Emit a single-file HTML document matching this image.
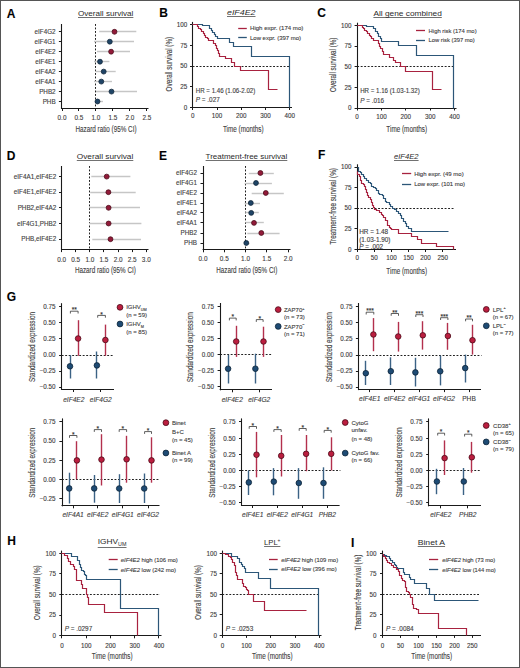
<!DOCTYPE html>
<html><head><meta charset="utf-8"><style>
html,body{margin:0;padding:0;background:#fff;}
svg{display:block;font-family:"Liberation Sans", sans-serif;fill:#404040;}
text{stroke:#404040;stroke-width:0.12px;}
text.t{stroke-width:0;}
</style></head><body>
<svg width="520" height="668" viewBox="0 0 520 668">
<rect x="0.5" y="0.5" width="519" height="667" fill="#fff" stroke="#555" stroke-width="1"/>
<text x="6.80" y="17.54" font-size="12" font-weight="bold" fill="#000">A</text>
<text class="t" x="78.00" y="16.00" font-size="8" textLength="55.40" lengthAdjust="spacingAndGlyphs" fill="#2a2a2a">Overall survival</text>
<line x1="78.00" y1="17.50" x2="133.40" y2="17.50" stroke="#333" stroke-width="0.7" />
<line x1="61.50" y1="24.00" x2="61.50" y2="109.00" stroke="#1a1a1a" stroke-width="1.1" />
<line x1="61.00" y1="108.50" x2="148.50" y2="108.50" stroke="#1a1a1a" stroke-width="1.1" />
<line x1="95.50" y1="24.00" x2="95.50" y2="108.50" stroke="#222" stroke-width="1" stroke-dasharray="1.9 1.6"/>
<line x1="58.90" y1="31.50" x2="61.50" y2="31.50" stroke="#1a1a1a" stroke-width="1" />
<text x="55.60" y="34.04" font-size="6.3" text-anchor="end">eIF4G2</text>
<line x1="58.90" y1="41.50" x2="61.50" y2="41.50" stroke="#1a1a1a" stroke-width="1" />
<text x="55.60" y="43.94" font-size="6.3" text-anchor="end">eIF4G1</text>
<line x1="58.90" y1="51.50" x2="61.50" y2="51.50" stroke="#1a1a1a" stroke-width="1" />
<text x="55.60" y="53.94" font-size="6.3" text-anchor="end">eIF4E2</text>
<line x1="58.90" y1="61.50" x2="61.50" y2="61.50" stroke="#1a1a1a" stroke-width="1" />
<text x="55.60" y="63.94" font-size="6.3" text-anchor="end">eIF4E1</text>
<line x1="58.90" y1="71.50" x2="61.50" y2="71.50" stroke="#1a1a1a" stroke-width="1" />
<text x="55.60" y="73.84" font-size="6.3" text-anchor="end">eIF4A2</text>
<line x1="58.90" y1="81.50" x2="61.50" y2="81.50" stroke="#1a1a1a" stroke-width="1" />
<text x="55.60" y="83.84" font-size="6.3" text-anchor="end">eIF4A1</text>
<line x1="58.90" y1="91.50" x2="61.50" y2="91.50" stroke="#1a1a1a" stroke-width="1" />
<text x="55.60" y="93.84" font-size="6.3" text-anchor="end">PHB2</text>
<line x1="58.90" y1="101.50" x2="61.50" y2="101.50" stroke="#1a1a1a" stroke-width="1" />
<text x="55.60" y="103.74" font-size="6.3" text-anchor="end">PHB</text>
<line x1="62.50" y1="108.50" x2="62.50" y2="111.00" stroke="#1a1a1a" stroke-width="1" />
<text x="62.00" y="119.57" font-size="6.4" text-anchor="middle">0.0</text>
<line x1="78.50" y1="108.50" x2="78.50" y2="111.00" stroke="#1a1a1a" stroke-width="1" />
<text x="78.98" y="119.57" font-size="6.4" text-anchor="middle">0.5</text>
<line x1="95.50" y1="108.50" x2="95.50" y2="111.00" stroke="#1a1a1a" stroke-width="1" />
<text x="95.96" y="119.57" font-size="6.4" text-anchor="middle">1.0</text>
<line x1="112.50" y1="108.50" x2="112.50" y2="111.00" stroke="#1a1a1a" stroke-width="1" />
<text x="112.94" y="119.57" font-size="6.4" text-anchor="middle">1.5</text>
<line x1="129.50" y1="108.50" x2="129.50" y2="111.00" stroke="#1a1a1a" stroke-width="1" />
<text x="129.92" y="119.57" font-size="6.4" text-anchor="middle">2.0</text>
<line x1="146.50" y1="108.50" x2="146.50" y2="111.00" stroke="#1a1a1a" stroke-width="1" />
<text x="146.90" y="119.57" font-size="6.4" text-anchor="middle">2.5</text>
<text x="106.00" y="131.75" font-size="8.3" text-anchor="middle" textLength="61.00" lengthAdjust="spacingAndGlyphs">Hazard ratio (95% CI)</text>
<line x1="99.20" y1="31.50" x2="136.30" y2="31.50" stroke="#c6c6c6" stroke-width="1.4" />
<line x1="94.00" y1="41.50" x2="134.00" y2="41.50" stroke="#c6c6c6" stroke-width="1.4" />
<line x1="97.00" y1="51.50" x2="130.00" y2="51.50" stroke="#c6c6c6" stroke-width="1.4" />
<line x1="94.00" y1="61.50" x2="109.40" y2="61.50" stroke="#c6c6c6" stroke-width="1.4" />
<line x1="95.40" y1="71.50" x2="115.70" y2="71.50" stroke="#c6c6c6" stroke-width="1.4" />
<line x1="94.00" y1="81.50" x2="112.00" y2="81.50" stroke="#c6c6c6" stroke-width="1.4" />
<line x1="96.00" y1="91.50" x2="137.00" y2="91.50" stroke="#c6c6c6" stroke-width="1.4" />
<line x1="95.40" y1="101.50" x2="103.00" y2="101.50" stroke="#c6c6c6" stroke-width="1.4" />
<circle cx="114.50" cy="31.80" r="2.45" fill="#921a39" stroke="#4a0a18" stroke-width="0.8"/>
<circle cx="109.80" cy="41.70" r="2.45" fill="#1f4466" stroke="#0e2438" stroke-width="0.8"/>
<circle cx="111.10" cy="51.70" r="2.45" fill="#921a39" stroke="#4a0a18" stroke-width="0.8"/>
<circle cx="100.00" cy="61.70" r="2.45" fill="#1f4466" stroke="#0e2438" stroke-width="0.8"/>
<circle cx="103.70" cy="71.60" r="2.45" fill="#1f4466" stroke="#0e2438" stroke-width="0.8"/>
<circle cx="101.30" cy="81.60" r="2.45" fill="#1f4466" stroke="#0e2438" stroke-width="0.8"/>
<circle cx="111.50" cy="91.60" r="2.45" fill="#1f4466" stroke="#0e2438" stroke-width="0.8"/>
<circle cx="97.50" cy="101.50" r="2.45" fill="#1f4466" stroke="#0e2438" stroke-width="0.8"/>
<text x="6.80" y="159.54" font-size="12" font-weight="bold" fill="#000">D</text>
<text class="t" x="76.80" y="158.80" font-size="8" textLength="56.50" lengthAdjust="spacingAndGlyphs" fill="#2a2a2a">Overall survival</text>
<line x1="76.80" y1="160.50" x2="133.30" y2="160.50" stroke="#333" stroke-width="0.7" />
<line x1="61.50" y1="166.00" x2="61.50" y2="250.10" stroke="#1a1a1a" stroke-width="1.1" />
<line x1="61.10" y1="249.50" x2="148.50" y2="249.50" stroke="#1a1a1a" stroke-width="1.1" />
<line x1="89.50" y1="166.00" x2="89.50" y2="249.60" stroke="#222" stroke-width="1" stroke-dasharray="1.9 1.6"/>
<line x1="59.00" y1="176.50" x2="61.60" y2="176.50" stroke="#1a1a1a" stroke-width="1" />
<text x="56.20" y="178.84" font-size="6.3" text-anchor="end">eIF4A1,eIF4E2</text>
<line x1="59.00" y1="192.50" x2="61.60" y2="192.50" stroke="#1a1a1a" stroke-width="1" />
<text x="56.20" y="194.44" font-size="6.3" text-anchor="end">eIF4E1,eIF4E2</text>
<line x1="59.00" y1="207.50" x2="61.60" y2="207.50" stroke="#1a1a1a" stroke-width="1" />
<text x="56.20" y="210.04" font-size="6.3" text-anchor="end">PHB2,eIF4A2</text>
<line x1="59.00" y1="223.50" x2="61.60" y2="223.50" stroke="#1a1a1a" stroke-width="1" />
<text x="56.20" y="225.74" font-size="6.3" text-anchor="end">eIF4G1,PHB2</text>
<line x1="59.00" y1="239.50" x2="61.60" y2="239.50" stroke="#1a1a1a" stroke-width="1" />
<text x="56.20" y="241.44" font-size="6.3" text-anchor="end">PHB,eIF4E2</text>
<line x1="61.50" y1="249.60" x2="61.50" y2="252.10" stroke="#1a1a1a" stroke-width="1" />
<text x="61.60" y="262.07" font-size="6.4" text-anchor="middle">0.0</text>
<line x1="75.50" y1="249.60" x2="75.50" y2="252.10" stroke="#1a1a1a" stroke-width="1" />
<text x="75.72" y="262.07" font-size="6.4" text-anchor="middle">0.5</text>
<line x1="89.50" y1="249.60" x2="89.50" y2="252.10" stroke="#1a1a1a" stroke-width="1" />
<text x="89.84" y="262.07" font-size="6.4" text-anchor="middle">1.0</text>
<line x1="103.50" y1="249.60" x2="103.50" y2="252.10" stroke="#1a1a1a" stroke-width="1" />
<text x="103.96" y="262.07" font-size="6.4" text-anchor="middle">1.5</text>
<line x1="118.50" y1="249.60" x2="118.50" y2="252.10" stroke="#1a1a1a" stroke-width="1" />
<text x="118.08" y="262.07" font-size="6.4" text-anchor="middle">2.0</text>
<line x1="132.50" y1="249.60" x2="132.50" y2="252.10" stroke="#1a1a1a" stroke-width="1" />
<text x="132.20" y="262.07" font-size="6.4" text-anchor="middle">2.5</text>
<line x1="146.50" y1="249.60" x2="146.50" y2="252.10" stroke="#1a1a1a" stroke-width="1" />
<text x="146.32" y="262.07" font-size="6.4" text-anchor="middle">3.0</text>
<text x="105.40" y="272.85" font-size="8.3" text-anchor="middle" textLength="61.00" lengthAdjust="spacingAndGlyphs">Hazard ratio (95% CI)</text>
<line x1="91.30" y1="176.50" x2="130.40" y2="176.50" stroke="#c6c6c6" stroke-width="1.4" />
<line x1="90.20" y1="192.50" x2="135.70" y2="192.50" stroke="#c6c6c6" stroke-width="1.4" />
<line x1="89.00" y1="207.50" x2="140.00" y2="207.50" stroke="#c6c6c6" stroke-width="1.4" />
<line x1="89.00" y1="223.50" x2="141.40" y2="223.50" stroke="#c6c6c6" stroke-width="1.4" />
<line x1="92.30" y1="239.50" x2="141.00" y2="239.50" stroke="#c6c6c6" stroke-width="1.4" />
<circle cx="106.70" cy="176.60" r="2.45" fill="#921a39" stroke="#4a0a18" stroke-width="0.8"/>
<circle cx="108.40" cy="192.20" r="2.45" fill="#921a39" stroke="#4a0a18" stroke-width="0.8"/>
<circle cx="108.60" cy="207.80" r="2.45" fill="#921a39" stroke="#4a0a18" stroke-width="0.8"/>
<circle cx="108.60" cy="223.50" r="2.45" fill="#921a39" stroke="#4a0a18" stroke-width="0.8"/>
<circle cx="110.50" cy="239.20" r="2.45" fill="#921a39" stroke="#4a0a18" stroke-width="0.8"/>
<text x="159.00" y="160.04" font-size="12" font-weight="bold" fill="#000">E</text>
<text class="t" x="205.60" y="158.90" font-size="8" textLength="81.70" lengthAdjust="spacingAndGlyphs" fill="#2a2a2a">Treatment-free survival</text>
<line x1="205.60" y1="160.50" x2="287.30" y2="160.50" stroke="#333" stroke-width="0.7" />
<line x1="203.50" y1="166.00" x2="203.50" y2="250.30" stroke="#1a1a1a" stroke-width="1.1" />
<line x1="202.60" y1="249.50" x2="290.50" y2="249.50" stroke="#1a1a1a" stroke-width="1.1" />
<line x1="245.50" y1="166.00" x2="245.50" y2="249.80" stroke="#222" stroke-width="1" stroke-dasharray="1.9 1.6"/>
<line x1="200.50" y1="173.50" x2="203.10" y2="173.50" stroke="#1a1a1a" stroke-width="1" />
<text x="197.00" y="175.24" font-size="6.3" text-anchor="end">eIF4G2</text>
<line x1="200.50" y1="183.50" x2="203.10" y2="183.50" stroke="#1a1a1a" stroke-width="1" />
<text x="197.00" y="185.24" font-size="6.3" text-anchor="end">eIF4G1</text>
<line x1="200.50" y1="193.50" x2="203.10" y2="193.50" stroke="#1a1a1a" stroke-width="1" />
<text x="197.00" y="195.24" font-size="6.3" text-anchor="end">eIF4E2</text>
<line x1="200.50" y1="203.50" x2="203.10" y2="203.50" stroke="#1a1a1a" stroke-width="1" />
<text x="197.00" y="205.24" font-size="6.3" text-anchor="end">eIF4E1</text>
<line x1="200.50" y1="212.50" x2="203.10" y2="212.50" stroke="#1a1a1a" stroke-width="1" />
<text x="197.00" y="215.14" font-size="6.3" text-anchor="end">eIF4A2</text>
<line x1="200.50" y1="222.50" x2="203.10" y2="222.50" stroke="#1a1a1a" stroke-width="1" />
<text x="197.00" y="225.14" font-size="6.3" text-anchor="end">eIF4A1</text>
<line x1="200.50" y1="233.50" x2="203.10" y2="233.50" stroke="#1a1a1a" stroke-width="1" />
<text x="197.00" y="235.24" font-size="6.3" text-anchor="end">PHB2</text>
<line x1="200.50" y1="243.50" x2="203.10" y2="243.50" stroke="#1a1a1a" stroke-width="1" />
<text x="197.00" y="245.24" font-size="6.3" text-anchor="end">PHB</text>
<line x1="203.50" y1="249.80" x2="203.50" y2="252.30" stroke="#1a1a1a" stroke-width="1" />
<text x="203.00" y="261.07" font-size="6.4" text-anchor="middle">0.0</text>
<line x1="224.50" y1="249.80" x2="224.50" y2="252.30" stroke="#1a1a1a" stroke-width="1" />
<text x="224.27" y="261.07" font-size="6.4" text-anchor="middle">0.5</text>
<line x1="245.50" y1="249.80" x2="245.50" y2="252.30" stroke="#1a1a1a" stroke-width="1" />
<text x="245.54" y="261.07" font-size="6.4" text-anchor="middle">1.0</text>
<line x1="266.50" y1="249.80" x2="266.50" y2="252.30" stroke="#1a1a1a" stroke-width="1" />
<text x="266.81" y="261.07" font-size="6.4" text-anchor="middle">1.5</text>
<line x1="288.50" y1="249.80" x2="288.50" y2="252.30" stroke="#1a1a1a" stroke-width="1" />
<text x="288.08" y="261.07" font-size="6.4" text-anchor="middle">2.0</text>
<text x="246.80" y="272.85" font-size="8.3" text-anchor="middle" textLength="61.00" lengthAdjust="spacingAndGlyphs">Hazard ratio (95% CI)</text>
<line x1="248.80" y1="173.50" x2="273.80" y2="173.50" stroke="#c6c6c6" stroke-width="1.4" />
<line x1="244.60" y1="183.50" x2="271.90" y2="183.50" stroke="#c6c6c6" stroke-width="1.4" />
<line x1="251.70" y1="193.50" x2="283.80" y2="193.50" stroke="#c6c6c6" stroke-width="1.4" />
<line x1="244.60" y1="203.50" x2="260.00" y2="203.50" stroke="#c6c6c6" stroke-width="1.4" />
<line x1="245.40" y1="212.50" x2="258.80" y2="212.50" stroke="#c6c6c6" stroke-width="1.4" />
<line x1="245.40" y1="222.50" x2="263.80" y2="222.50" stroke="#c6c6c6" stroke-width="1.4" />
<line x1="247.30" y1="233.50" x2="279.60" y2="233.50" stroke="#c6c6c6" stroke-width="1.4" />
<line x1="244.50" y1="243.50" x2="249.50" y2="243.50" stroke="#c6c6c6" stroke-width="1.4" />
<circle cx="260.40" cy="173.00" r="2.45" fill="#921a39" stroke="#4a0a18" stroke-width="0.8"/>
<circle cx="256.00" cy="183.00" r="2.45" fill="#1f4466" stroke="#0e2438" stroke-width="0.8"/>
<circle cx="265.80" cy="193.00" r="2.45" fill="#921a39" stroke="#4a0a18" stroke-width="0.8"/>
<circle cx="250.80" cy="203.00" r="2.45" fill="#1f4466" stroke="#0e2438" stroke-width="0.8"/>
<circle cx="251.20" cy="212.90" r="2.45" fill="#1f4466" stroke="#0e2438" stroke-width="0.8"/>
<circle cx="254.00" cy="222.90" r="2.45" fill="#921a39" stroke="#4a0a18" stroke-width="0.8"/>
<circle cx="261.30" cy="233.00" r="2.45" fill="#921a39" stroke="#4a0a18" stroke-width="0.8"/>
<circle cx="246.30" cy="243.00" r="2.45" fill="#1f4466" stroke="#0e2438" stroke-width="0.8"/>
<text x="159.30" y="17.34" font-size="12" font-weight="bold" fill="#000">B</text>
<text class="t" x="227.00" y="15.40" font-size="8" textLength="28.50" lengthAdjust="spacingAndGlyphs" fill="#2a2a2a" font-style="italic">eIF4E2</text>
<line x1="227.00" y1="16.50" x2="255.50" y2="16.50" stroke="#333" stroke-width="0.7" />
<line x1="192.50" y1="21.90" x2="192.50" y2="108.00" stroke="#1a1a1a" stroke-width="1.1" />
<line x1="192.10" y1="107.50" x2="292.00" y2="107.50" stroke="#1a1a1a" stroke-width="1.1" />
<line x1="190.00" y1="24.50" x2="192.60" y2="24.50" stroke="#1a1a1a" stroke-width="1" />
<text x="187.20" y="26.84" font-size="6.3" text-anchor="end">100</text>
<line x1="190.00" y1="45.50" x2="192.60" y2="45.50" stroke="#1a1a1a" stroke-width="1" />
<text x="187.20" y="47.56" font-size="6.3" text-anchor="end">75</text>
<line x1="190.00" y1="66.50" x2="192.60" y2="66.50" stroke="#1a1a1a" stroke-width="1" />
<text x="187.20" y="68.29" font-size="6.3" text-anchor="end">50</text>
<line x1="190.00" y1="86.50" x2="192.60" y2="86.50" stroke="#1a1a1a" stroke-width="1" />
<text x="187.20" y="89.01" font-size="6.3" text-anchor="end">25</text>
<line x1="190.00" y1="107.50" x2="192.60" y2="107.50" stroke="#1a1a1a" stroke-width="1" />
<text x="187.20" y="109.74" font-size="6.3" text-anchor="end">0</text>
<line x1="192.50" y1="107.50" x2="192.50" y2="110.00" stroke="#1a1a1a" stroke-width="1" />
<text x="192.80" y="118.34" font-size="6.3" text-anchor="middle">0</text>
<line x1="217.50" y1="107.50" x2="217.50" y2="110.00" stroke="#1a1a1a" stroke-width="1" />
<text x="217.05" y="118.34" font-size="6.3" text-anchor="middle">100</text>
<line x1="241.50" y1="107.50" x2="241.50" y2="110.00" stroke="#1a1a1a" stroke-width="1" />
<text x="241.30" y="118.34" font-size="6.3" text-anchor="middle">200</text>
<line x1="265.50" y1="107.50" x2="265.50" y2="110.00" stroke="#1a1a1a" stroke-width="1" />
<text x="265.55" y="118.34" font-size="6.3" text-anchor="middle">300</text>
<line x1="289.50" y1="107.50" x2="289.50" y2="110.00" stroke="#1a1a1a" stroke-width="1" />
<text x="289.80" y="118.34" font-size="6.3" text-anchor="middle">400</text>
<text transform="translate(168.60,64.15) rotate(-90)" x="0" y="2.95" font-size="8.3" text-anchor="middle" textLength="54.50" lengthAdjust="spacingAndGlyphs">Overall survival (%)</text>
<text x="243.30" y="131.65" font-size="8.3" text-anchor="middle" textLength="40.70" lengthAdjust="spacingAndGlyphs">Time (months)</text>
<line x1="192.60" y1="66.50" x2="289.80" y2="66.50" stroke="#222" stroke-width="1" stroke-dasharray="1.9 1.6"/>
<path d="M192.50,24.50H202.50V25.50H209.50V28.50H211.50V30.50H212.50V32.50H214.50V34.50H215.50V36.50H217.50V38.50H229.50V42.50H233.50V46.50H251.50V56.50H289.50V107.50" stroke="#2c5678" stroke-width="1.2" fill="none" stroke-linejoin="miter"/>
<path d="M192.50,24.50H197.50V26.50H198.50V28.50H200.50V29.50H201.50V31.50H203.50V33.50H204.50V35.50H205.50V37.50H207.50V38.50H208.50V40.50H213.50V43.50H215.50V45.50H216.50V48.50H217.50V50.50H218.50V53.50H219.50V56.50H225.50V58.50H231.50V62.50H234.50V66.50H240.50V70.50H268.50V89.50H277.50V89.50" stroke="#a8223f" stroke-width="1.2" fill="none" stroke-linejoin="miter"/>
<line x1="238.20" y1="28.50" x2="246.80" y2="28.50" stroke="#a8223f" stroke-width="1.3" />
<text x="250.00" y="30.13" font-size="6.0" textLength="53.30" lengthAdjust="spacingAndGlyphs">High expr. (174 mo)</text>
<line x1="238.20" y1="37.50" x2="246.80" y2="37.50" stroke="#2c5678" stroke-width="1.3" />
<text x="250.00" y="39.63" font-size="6.0" textLength="51.00" lengthAdjust="spacingAndGlyphs">Low expr. (397 mo)</text>
<text x="195.80" y="92.87" font-size="6.4" textLength="59.50" lengthAdjust="spacingAndGlyphs">HR = 1.46 (1.06-2.02)</text>
<text x="195.80" y="101.87" font-size="6.4"><tspan font-style="italic">P</tspan> = .027</text>
<text x="317.20" y="16.84" font-size="12" font-weight="bold" fill="#000">C</text>
<text class="t" x="373.40" y="16.30" font-size="8" textLength="68.40" lengthAdjust="spacingAndGlyphs" fill="#2a2a2a">All gene combined</text>
<line x1="373.40" y1="17.50" x2="441.80" y2="17.50" stroke="#333" stroke-width="0.7" />
<line x1="357.50" y1="22.70" x2="357.50" y2="108.50" stroke="#1a1a1a" stroke-width="1.1" />
<line x1="356.70" y1="108.50" x2="456.50" y2="108.50" stroke="#1a1a1a" stroke-width="1.1" />
<line x1="354.60" y1="25.50" x2="357.20" y2="25.50" stroke="#1a1a1a" stroke-width="1" />
<text x="351.40" y="27.64" font-size="6.3" text-anchor="end">100</text>
<line x1="354.60" y1="46.50" x2="357.20" y2="46.50" stroke="#1a1a1a" stroke-width="1" />
<text x="351.40" y="48.29" font-size="6.3" text-anchor="end">75</text>
<line x1="354.60" y1="66.50" x2="357.20" y2="66.50" stroke="#1a1a1a" stroke-width="1" />
<text x="351.40" y="68.94" font-size="6.3" text-anchor="end">50</text>
<line x1="354.60" y1="87.50" x2="357.20" y2="87.50" stroke="#1a1a1a" stroke-width="1" />
<text x="351.40" y="89.59" font-size="6.3" text-anchor="end">25</text>
<line x1="354.60" y1="108.50" x2="357.20" y2="108.50" stroke="#1a1a1a" stroke-width="1" />
<text x="351.40" y="110.24" font-size="6.3" text-anchor="end">0</text>
<line x1="357.50" y1="108.00" x2="357.50" y2="110.50" stroke="#1a1a1a" stroke-width="1" />
<text x="357.10" y="118.84" font-size="6.3" text-anchor="middle">0</text>
<line x1="381.50" y1="108.00" x2="381.50" y2="110.50" stroke="#1a1a1a" stroke-width="1" />
<text x="381.45" y="118.84" font-size="6.3" text-anchor="middle">100</text>
<line x1="405.50" y1="108.00" x2="405.50" y2="110.50" stroke="#1a1a1a" stroke-width="1" />
<text x="405.80" y="118.84" font-size="6.3" text-anchor="middle">200</text>
<line x1="430.50" y1="108.00" x2="430.50" y2="110.50" stroke="#1a1a1a" stroke-width="1" />
<text x="430.15" y="118.84" font-size="6.3" text-anchor="middle">300</text>
<line x1="454.50" y1="108.00" x2="454.50" y2="110.50" stroke="#1a1a1a" stroke-width="1" />
<text x="454.50" y="118.84" font-size="6.3" text-anchor="middle">400</text>
<text transform="translate(332.70,64.80) rotate(-90)" x="0" y="2.95" font-size="8.3" text-anchor="middle" textLength="54.50" lengthAdjust="spacingAndGlyphs">Overall survival (%)</text>
<text x="406.70" y="132.15" font-size="8.3" text-anchor="middle" textLength="40.70" lengthAdjust="spacingAndGlyphs">Time (months)</text>
<line x1="357.20" y1="66.50" x2="454.00" y2="66.50" stroke="#222" stroke-width="1" stroke-dasharray="1.9 1.6"/>
<path d="M357.50,25.50H366.50V26.50H373.50V28.50H375.50V31.50H377.50V33.50H378.50V36.50H380.50V38.50H381.50V41.50H398.50V45.50H416.50V55.50H453.50V108.50" stroke="#2c5678" stroke-width="1.2" fill="none" stroke-linejoin="miter"/>
<path d="M357.50,25.50H362.50V27.50H363.50V28.50H364.50V30.50H366.50V31.50H367.50V33.50H369.50V35.50H370.50V36.50H371.50V38.50H373.50V40.50H378.50V43.50H379.50V46.50H380.50V48.50H382.50V51.50H383.50V54.50H389.50V57.50H393.50V60.50H395.50V62.50H400.50V66.50H405.50V71.50H432.50V89.50H441.50V89.50" stroke="#a8223f" stroke-width="1.2" fill="none" stroke-linejoin="miter"/>
<line x1="416.00" y1="30.50" x2="425.00" y2="30.50" stroke="#a8223f" stroke-width="1.3" />
<text x="428.60" y="32.73" font-size="6.0" textLength="48.00" lengthAdjust="spacingAndGlyphs">High risk (174 mo)</text>
<line x1="416.00" y1="40.50" x2="425.00" y2="40.50" stroke="#2c5678" stroke-width="1.3" />
<text x="428.60" y="42.23" font-size="6.0" textLength="46.20" lengthAdjust="spacingAndGlyphs">Low risk (397 mo)</text>
<text x="360.20" y="93.27" font-size="6.4" textLength="59.50" lengthAdjust="spacingAndGlyphs">HR = 1.16 (1.03-1.32)</text>
<text x="360.20" y="103.47" font-size="6.4"><tspan font-style="italic">P</tspan> = .016</text>
<text x="317.90" y="159.44" font-size="12" font-weight="bold" fill="#000">F</text>
<text class="t" x="394.00" y="158.80" font-size="8" textLength="24.60" lengthAdjust="spacingAndGlyphs" fill="#2a2a2a" font-style="italic">eIF4E2</text>
<line x1="394.00" y1="160.50" x2="418.60" y2="160.50" stroke="#333" stroke-width="0.7" />
<line x1="357.50" y1="164.30" x2="357.50" y2="250.00" stroke="#1a1a1a" stroke-width="1.1" />
<line x1="356.60" y1="249.50" x2="456.00" y2="249.50" stroke="#1a1a1a" stroke-width="1.1" />
<line x1="354.50" y1="167.50" x2="357.10" y2="167.50" stroke="#1a1a1a" stroke-width="1" />
<text x="351.40" y="169.24" font-size="6.3" text-anchor="end">100</text>
<line x1="354.50" y1="187.50" x2="357.10" y2="187.50" stroke="#1a1a1a" stroke-width="1" />
<text x="351.40" y="189.86" font-size="6.3" text-anchor="end">75</text>
<line x1="354.50" y1="208.50" x2="357.10" y2="208.50" stroke="#1a1a1a" stroke-width="1" />
<text x="351.40" y="210.49" font-size="6.3" text-anchor="end">50</text>
<line x1="354.50" y1="228.50" x2="357.10" y2="228.50" stroke="#1a1a1a" stroke-width="1" />
<text x="351.40" y="231.11" font-size="6.3" text-anchor="end">25</text>
<line x1="354.50" y1="249.50" x2="357.10" y2="249.50" stroke="#1a1a1a" stroke-width="1" />
<text x="351.40" y="251.74" font-size="6.3" text-anchor="end">0</text>
<line x1="357.50" y1="249.50" x2="357.50" y2="252.00" stroke="#1a1a1a" stroke-width="1" />
<text x="357.20" y="260.34" font-size="6.3" text-anchor="middle">0</text>
<line x1="374.50" y1="249.50" x2="374.50" y2="252.00" stroke="#1a1a1a" stroke-width="1" />
<text x="374.30" y="260.34" font-size="6.3" text-anchor="middle">50</text>
<line x1="391.50" y1="249.50" x2="391.50" y2="252.00" stroke="#1a1a1a" stroke-width="1" />
<text x="391.40" y="260.34" font-size="6.3" text-anchor="middle">100</text>
<line x1="408.50" y1="249.50" x2="408.50" y2="252.00" stroke="#1a1a1a" stroke-width="1" />
<text x="408.50" y="260.34" font-size="6.3" text-anchor="middle">150</text>
<line x1="425.50" y1="249.50" x2="425.50" y2="252.00" stroke="#1a1a1a" stroke-width="1" />
<text x="425.60" y="260.34" font-size="6.3" text-anchor="middle">200</text>
<line x1="442.50" y1="249.50" x2="442.50" y2="252.00" stroke="#1a1a1a" stroke-width="1" />
<text x="442.70" y="260.34" font-size="6.3" text-anchor="middle">250</text>
<text transform="translate(333.30,206.35) rotate(-90)" x="0" y="2.95" font-size="8.3" text-anchor="middle" textLength="76.50" lengthAdjust="spacingAndGlyphs">Treatment-free survival (%)</text>
<text x="406.70" y="273.65" font-size="8.3" text-anchor="middle" textLength="40.70" lengthAdjust="spacingAndGlyphs">Time (months)</text>
<line x1="357.10" y1="208.50" x2="453.80" y2="208.50" stroke="#222" stroke-width="1" stroke-dasharray="1.9 1.6"/>
<path d="M357.50,167.50H358.50V171.50H360.50V172.50H361.50V174.50H363.50V176.50H364.50V178.50H366.50V180.50H368.50V182.50H370.50V183.50H371.50V186.50H373.50V187.50H375.50V188.50H376.50V190.50H378.50V193.50H379.50V194.50H382.50V195.50H383.50V198.50H385.50V201.50H386.50V202.50H389.50V204.50H390.50V206.50H392.50V208.50H394.50V209.50H396.50V211.50H398.50V213.50H400.50V215.50H401.50V218.50H403.50V221.50H405.50V223.50H406.50V226.50H408.50V228.50H411.50V229.50H411.50V231.50H448.50V231.50" stroke="#2c5678" stroke-width="1.2" fill="none" stroke-linejoin="miter"/>
<path d="M357.50,171.50H357.50V174.50H359.50V176.50H360.50V180.50H361.50V183.50H363.50V184.50H364.50V186.50H365.50V189.50H366.50V192.50H367.50V195.50H368.50V197.50H370.50V199.50H371.50V202.50H372.50V205.50H373.50V207.50H374.50V209.50H376.50V210.50H379.50V212.50H381.50V214.50H382.50V215.50H383.50V217.50H385.50V220.50H387.50V225.50H389.50V227.50H390.50V228.50H391.50V229.50H398.50V233.50H411.50V236.50H417.50V239.50H421.50V243.50H436.50V246.50H453.50V249.50" stroke="#a8223f" stroke-width="1.2" fill="none" stroke-linejoin="miter"/>
<line x1="402.00" y1="173.50" x2="411.20" y2="173.50" stroke="#a8223f" stroke-width="1.3" />
<text x="414.20" y="175.93" font-size="6.0" textLength="49.50" lengthAdjust="spacingAndGlyphs">High expr. (49 mo)</text>
<line x1="402.00" y1="184.50" x2="411.20" y2="184.50" stroke="#2c5678" stroke-width="1.3" />
<text x="414.20" y="186.43" font-size="6.0" textLength="50.80" lengthAdjust="spacingAndGlyphs">Low expr. (101 mo)</text>
<text x="359.20" y="234.07" font-size="6.4">HR = 1.48</text>
<text x="359.20" y="241.57" font-size="6.4">(1.03-1.90)</text>
<text x="359.20" y="248.67" font-size="6.4"><tspan font-style="italic">P</tspan> = .002</text>
<text x="6.80" y="301.24" font-size="12" font-weight="bold" fill="#000">G</text>
<line x1="61.50" y1="303.20" x2="61.50" y2="390.00" stroke="#1a1a1a" stroke-width="1.1" />
<line x1="61.20" y1="389.50" x2="114.00" y2="389.50" stroke="#1a1a1a" stroke-width="1.1" />
<line x1="59.10" y1="306.50" x2="61.70" y2="306.50" stroke="#1a1a1a" stroke-width="1" />
<text x="55.60" y="308.94" font-size="6.3" text-anchor="end">0.75</text>
<line x1="59.10" y1="322.50" x2="61.70" y2="322.50" stroke="#1a1a1a" stroke-width="1" />
<text x="55.60" y="324.94" font-size="6.3" text-anchor="end">0.50</text>
<line x1="59.10" y1="338.50" x2="61.70" y2="338.50" stroke="#1a1a1a" stroke-width="1" />
<text x="55.60" y="341.04" font-size="6.3" text-anchor="end">0.25</text>
<line x1="59.10" y1="355.50" x2="61.70" y2="355.50" stroke="#1a1a1a" stroke-width="1" />
<text x="55.60" y="357.34" font-size="6.3" text-anchor="end">0.00</text>
<line x1="59.10" y1="371.50" x2="61.70" y2="371.50" stroke="#1a1a1a" stroke-width="1" />
<text x="55.60" y="373.44" font-size="6.3" text-anchor="end">−0.25</text>
<line x1="59.10" y1="387.50" x2="61.70" y2="387.50" stroke="#1a1a1a" stroke-width="1" />
<text x="55.60" y="389.34" font-size="6.3" text-anchor="end">−0.50</text>
<line x1="61.70" y1="355.50" x2="113.70" y2="355.50" stroke="#222" stroke-width="1" stroke-dasharray="1.9 1.6"/>
<text transform="translate(32.10,347.00) rotate(-90)" x="0" y="2.95" font-size="8.3" text-anchor="middle" textLength="70.00" lengthAdjust="spacingAndGlyphs">Standardized expression</text>
<line x1="73.50" y1="389.50" x2="73.50" y2="392.00" stroke="#1a1a1a" stroke-width="1" />
<text x="73.80" y="402.14" font-size="6.6" text-anchor="middle" font-style="italic">eIF4E2</text>
<line x1="100.50" y1="389.50" x2="100.50" y2="392.00" stroke="#1a1a1a" stroke-width="1" />
<text x="100.80" y="402.14" font-size="6.6" text-anchor="middle" font-style="italic">eIF4G2</text>
<line x1="70.50" y1="355.20" x2="70.50" y2="378.50" stroke="#3b6285" stroke-width="1.4" />
<line x1="78.50" y1="320.20" x2="78.50" y2="355.80" stroke="#b3304d" stroke-width="1.4" />
<circle cx="70.00" cy="366.30" r="2.8" fill="#1e4b74" stroke="#0e2438" stroke-width="0.8"/>
<circle cx="78.10" cy="338.50" r="2.8" fill="#bb1e3f" stroke="#4a0a18" stroke-width="0.8"/>
<path d="M70.40,313.50V311.20H78.10V313.50" stroke="#333" stroke-width="0.8" fill="none" stroke-linejoin="miter"/>
<text x="74.25" y="312.34" font-size="6.6" text-anchor="middle" fill="#222">**</text>
<line x1="96.50" y1="351.50" x2="96.50" y2="378.50" stroke="#3b6285" stroke-width="1.4" />
<line x1="105.50" y1="324.60" x2="105.50" y2="355.80" stroke="#b3304d" stroke-width="1.4" />
<circle cx="96.90" cy="365.40" r="2.8" fill="#1e4b74" stroke="#0e2438" stroke-width="0.8"/>
<circle cx="105.40" cy="340.00" r="2.8" fill="#bb1e3f" stroke="#4a0a18" stroke-width="0.8"/>
<path d="M97.70,317.70V315.40H105.40V317.70" stroke="#333" stroke-width="0.8" fill="none" stroke-linejoin="miter"/>
<text x="101.55" y="316.54" font-size="6.6" text-anchor="middle" fill="#222">*</text>
<circle cx="120.00" cy="307.30" r="2.9" fill="#bb1e3f" stroke="#4a0a18" stroke-width="0.8"/>
<text x="126.20" y="309.43" font-size="6.0">IGHV<tspan font-size="3.8" dy="1.6">UM</tspan></text>
<text x="126.20" y="317.13" font-size="6.0">(n = 59)</text>
<circle cx="120.00" cy="324.00" r="2.9" fill="#1e4b74" stroke="#0e2438" stroke-width="0.8"/>
<text x="126.20" y="326.13" font-size="6.0">IGHV<tspan font-size="3.8" dy="1.6">M</tspan></text>
<text x="126.20" y="333.83" font-size="6.0">(n = 85)</text>
<line x1="220.50" y1="303.00" x2="220.50" y2="390.30" stroke="#1a1a1a" stroke-width="1.1" />
<line x1="219.70" y1="389.50" x2="272.00" y2="389.50" stroke="#1a1a1a" stroke-width="1.1" />
<line x1="217.60" y1="306.50" x2="220.20" y2="306.50" stroke="#1a1a1a" stroke-width="1" />
<text x="214.00" y="308.74" font-size="6.3" text-anchor="end">0.75</text>
<line x1="217.60" y1="322.50" x2="220.20" y2="322.50" stroke="#1a1a1a" stroke-width="1" />
<text x="214.00" y="324.74" font-size="6.3" text-anchor="end">0.50</text>
<line x1="217.60" y1="338.50" x2="220.20" y2="338.50" stroke="#1a1a1a" stroke-width="1" />
<text x="214.00" y="340.94" font-size="6.3" text-anchor="end">0.25</text>
<line x1="217.60" y1="354.50" x2="220.20" y2="354.50" stroke="#1a1a1a" stroke-width="1" />
<text x="214.00" y="357.04" font-size="6.3" text-anchor="end">0.00</text>
<line x1="217.60" y1="370.50" x2="220.20" y2="370.50" stroke="#1a1a1a" stroke-width="1" />
<text x="214.00" y="372.84" font-size="6.3" text-anchor="end">−0.25</text>
<line x1="217.60" y1="386.50" x2="220.20" y2="386.50" stroke="#1a1a1a" stroke-width="1" />
<text x="214.00" y="389.14" font-size="6.3" text-anchor="end">−0.50</text>
<line x1="220.20" y1="354.50" x2="271.70" y2="354.50" stroke="#222" stroke-width="1" stroke-dasharray="1.9 1.6"/>
<text transform="translate(190.30,347.20) rotate(-90)" x="0" y="2.95" font-size="8.3" text-anchor="middle" textLength="70.00" lengthAdjust="spacingAndGlyphs">Standardized expression</text>
<line x1="232.50" y1="389.80" x2="232.50" y2="392.30" stroke="#1a1a1a" stroke-width="1" />
<text x="232.30" y="401.84" font-size="6.6" text-anchor="middle" font-style="italic">eIF4E2</text>
<line x1="259.50" y1="389.80" x2="259.50" y2="392.30" stroke="#1a1a1a" stroke-width="1" />
<text x="259.20" y="401.84" font-size="6.6" text-anchor="middle" font-style="italic">eIF4G2</text>
<line x1="228.50" y1="354.80" x2="228.50" y2="383.50" stroke="#3b6285" stroke-width="1.4" />
<line x1="236.50" y1="325.80" x2="236.50" y2="356.90" stroke="#b3304d" stroke-width="1.4" />
<circle cx="228.10" cy="368.70" r="2.8" fill="#1e4b74" stroke="#0e2438" stroke-width="0.8"/>
<circle cx="236.20" cy="341.50" r="2.8" fill="#bb1e3f" stroke="#4a0a18" stroke-width="0.8"/>
<path d="M229.40,320.40V318.10H236.20V320.40" stroke="#333" stroke-width="0.8" fill="none" stroke-linejoin="miter"/>
<text x="232.80" y="319.24" font-size="6.6" text-anchor="middle" fill="#222">*</text>
<line x1="255.50" y1="353.70" x2="255.50" y2="383.50" stroke="#3b6285" stroke-width="1.4" />
<line x1="263.50" y1="326.70" x2="263.50" y2="356.90" stroke="#b3304d" stroke-width="1.4" />
<circle cx="255.40" cy="368.70" r="2.8" fill="#1e4b74" stroke="#0e2438" stroke-width="0.8"/>
<circle cx="263.50" cy="341.50" r="2.8" fill="#bb1e3f" stroke="#4a0a18" stroke-width="0.8"/>
<path d="M256.30,321.90V319.60H263.10V321.90" stroke="#333" stroke-width="0.8" fill="none" stroke-linejoin="miter"/>
<text x="259.70" y="320.74" font-size="6.6" text-anchor="middle" fill="#222">*</text>
<circle cx="278.20" cy="309.60" r="2.9" fill="#bb1e3f" stroke="#4a0a18" stroke-width="0.8"/>
<text x="283.90" y="311.73" font-size="6.0">ZAP70<tspan font-size="3.8" dy="-2.2">+</tspan></text>
<text x="283.90" y="319.23" font-size="6.0">(n = 73)</text>
<circle cx="278.20" cy="326.40" r="2.9" fill="#1e4b74" stroke="#0e2438" stroke-width="0.8"/>
<text x="283.90" y="328.53" font-size="6.0">ZAP70<tspan font-size="3.8" dy="-2.2">−</tspan></text>
<text x="283.90" y="335.63" font-size="6.0">(n = 71)</text>
<line x1="358.50" y1="303.00" x2="358.50" y2="390.10" stroke="#1a1a1a" stroke-width="1.1" />
<line x1="358.00" y1="389.50" x2="481.00" y2="389.50" stroke="#1a1a1a" stroke-width="1.1" />
<line x1="355.90" y1="306.50" x2="358.50" y2="306.50" stroke="#1a1a1a" stroke-width="1" />
<text x="352.60" y="308.74" font-size="6.3" text-anchor="end">0.75</text>
<line x1="355.90" y1="322.50" x2="358.50" y2="322.50" stroke="#1a1a1a" stroke-width="1" />
<text x="352.60" y="324.94" font-size="6.3" text-anchor="end">0.50</text>
<line x1="355.90" y1="338.50" x2="358.50" y2="338.50" stroke="#1a1a1a" stroke-width="1" />
<text x="352.60" y="341.04" font-size="6.3" text-anchor="end">0.25</text>
<line x1="355.90" y1="355.50" x2="358.50" y2="355.50" stroke="#1a1a1a" stroke-width="1" />
<text x="352.60" y="357.24" font-size="6.3" text-anchor="end">0.00</text>
<line x1="355.90" y1="371.50" x2="358.50" y2="371.50" stroke="#1a1a1a" stroke-width="1" />
<text x="352.60" y="373.44" font-size="6.3" text-anchor="end">−0.25</text>
<line x1="355.90" y1="387.50" x2="358.50" y2="387.50" stroke="#1a1a1a" stroke-width="1" />
<text x="352.60" y="389.24" font-size="6.3" text-anchor="end">−0.50</text>
<line x1="358.50" y1="355.50" x2="481.50" y2="355.50" stroke="#222" stroke-width="1" stroke-dasharray="1.9 1.6"/>
<text transform="translate(329.30,347.20) rotate(-90)" x="0" y="2.95" font-size="8.3" text-anchor="middle" textLength="70.00" lengthAdjust="spacingAndGlyphs">Standardized expression</text>
<line x1="369.50" y1="389.60" x2="369.50" y2="392.10" stroke="#1a1a1a" stroke-width="1" />
<text x="369.70" y="401.34" font-size="6.6" text-anchor="middle" font-style="italic">eIF4E1</text>
<line x1="394.50" y1="389.60" x2="394.50" y2="392.10" stroke="#1a1a1a" stroke-width="1" />
<text x="394.60" y="401.34" font-size="6.6" text-anchor="middle" font-style="italic">eIF4E2</text>
<line x1="419.50" y1="389.60" x2="419.50" y2="392.10" stroke="#1a1a1a" stroke-width="1" />
<text x="419.20" y="401.34" font-size="6.6" text-anchor="middle" font-style="italic">eIF4G1</text>
<line x1="444.50" y1="389.60" x2="444.50" y2="392.10" stroke="#1a1a1a" stroke-width="1" />
<text x="444.00" y="401.34" font-size="6.6" text-anchor="middle" font-style="italic">eIF4G2</text>
<line x1="469.50" y1="389.60" x2="469.50" y2="392.10" stroke="#1a1a1a" stroke-width="1" />
<text x="469.00" y="401.34" font-size="6.6" text-anchor="middle">PHB</text>
<line x1="365.50" y1="360.80" x2="365.50" y2="385.00" stroke="#3b6285" stroke-width="1.4" />
<line x1="373.50" y1="318.10" x2="373.50" y2="351.20" stroke="#b3304d" stroke-width="1.4" />
<circle cx="365.80" cy="373.20" r="2.8" fill="#1e4b74" stroke="#0e2438" stroke-width="0.8"/>
<circle cx="373.40" cy="334.50" r="2.8" fill="#bb1e3f" stroke="#4a0a18" stroke-width="0.8"/>
<path d="M366.20,314.50V312.20H373.80V314.50" stroke="#333" stroke-width="0.8" fill="none" stroke-linejoin="miter"/>
<text x="370.00" y="313.34" font-size="6.6" text-anchor="middle" fill="#222">***</text>
<line x1="390.50" y1="357.30" x2="390.50" y2="385.00" stroke="#3b6285" stroke-width="1.4" />
<line x1="398.50" y1="321.90" x2="398.50" y2="351.60" stroke="#b3304d" stroke-width="1.4" />
<circle cx="390.80" cy="371.20" r="2.8" fill="#1e4b74" stroke="#0e2438" stroke-width="0.8"/>
<circle cx="398.20" cy="336.50" r="2.8" fill="#bb1e3f" stroke="#4a0a18" stroke-width="0.8"/>
<path d="M391.20,315.80V313.50H398.50V315.80" stroke="#333" stroke-width="0.8" fill="none" stroke-linejoin="miter"/>
<text x="394.85" y="314.64" font-size="6.6" text-anchor="middle" fill="#222">**</text>
<line x1="415.50" y1="357.80" x2="415.50" y2="386.50" stroke="#3b6285" stroke-width="1.4" />
<line x1="422.50" y1="321.20" x2="422.50" y2="349.60" stroke="#b3304d" stroke-width="1.4" />
<circle cx="415.40" cy="372.40" r="2.8" fill="#1e4b74" stroke="#0e2438" stroke-width="0.8"/>
<circle cx="422.80" cy="335.30" r="2.8" fill="#bb1e3f" stroke="#4a0a18" stroke-width="0.8"/>
<path d="M415.80,317.00V314.70H423.00V317.00" stroke="#333" stroke-width="0.8" fill="none" stroke-linejoin="miter"/>
<text x="419.40" y="315.84" font-size="6.6" text-anchor="middle" fill="#222">***</text>
<line x1="440.50" y1="355.60" x2="440.50" y2="385.40" stroke="#3b6285" stroke-width="1.4" />
<line x1="447.50" y1="322.90" x2="447.50" y2="349.80" stroke="#b3304d" stroke-width="1.4" />
<circle cx="440.20" cy="371.30" r="2.8" fill="#1e4b74" stroke="#0e2438" stroke-width="0.8"/>
<circle cx="447.90" cy="336.00" r="2.8" fill="#bb1e3f" stroke="#4a0a18" stroke-width="0.8"/>
<path d="M440.60,320.00V317.70H447.90V320.00" stroke="#333" stroke-width="0.8" fill="none" stroke-linejoin="miter"/>
<text x="444.25" y="318.84" font-size="6.6" text-anchor="middle" fill="#222">***</text>
<line x1="465.50" y1="354.60" x2="465.50" y2="382.50" stroke="#3b6285" stroke-width="1.4" />
<line x1="472.50" y1="324.80" x2="472.50" y2="354.60" stroke="#b3304d" stroke-width="1.4" />
<circle cx="465.20" cy="368.10" r="2.8" fill="#1e4b74" stroke="#0e2438" stroke-width="0.8"/>
<circle cx="472.50" cy="340.20" r="2.8" fill="#bb1e3f" stroke="#4a0a18" stroke-width="0.8"/>
<path d="M465.60,321.30V319.00H472.50V321.30" stroke="#333" stroke-width="0.8" fill="none" stroke-linejoin="miter"/>
<text x="469.05" y="320.14" font-size="6.6" text-anchor="middle" fill="#222">**</text>
<circle cx="486.30" cy="309.40" r="2.9" fill="#bb1e3f" stroke="#4a0a18" stroke-width="0.8"/>
<text x="492.70" y="311.53" font-size="6.0">LPL<tspan font-size="3.8" dy="-2.2">+</tspan></text>
<text x="492.70" y="318.83" font-size="6.0">(n = 67)</text>
<circle cx="486.30" cy="325.80" r="2.9" fill="#1e4b74" stroke="#0e2438" stroke-width="0.8"/>
<text x="492.70" y="327.93" font-size="6.0">LPL<tspan font-size="3.8" dy="-2.2">−</tspan></text>
<text x="492.70" y="335.13" font-size="6.0">(n = 77)</text>
<line x1="62.50" y1="418.40" x2="62.50" y2="506.30" stroke="#1a1a1a" stroke-width="1.1" />
<line x1="61.50" y1="505.50" x2="159.50" y2="505.50" stroke="#1a1a1a" stroke-width="1.1" />
<line x1="59.40" y1="421.50" x2="62.00" y2="421.50" stroke="#1a1a1a" stroke-width="1" />
<text x="55.60" y="424.14" font-size="6.3" text-anchor="end">0.75</text>
<line x1="59.40" y1="441.50" x2="62.00" y2="441.50" stroke="#1a1a1a" stroke-width="1" />
<text x="55.60" y="443.34" font-size="6.3" text-anchor="end">0.50</text>
<line x1="59.40" y1="460.50" x2="62.00" y2="460.50" stroke="#1a1a1a" stroke-width="1" />
<text x="55.60" y="462.54" font-size="6.3" text-anchor="end">0.25</text>
<line x1="59.40" y1="479.50" x2="62.00" y2="479.50" stroke="#1a1a1a" stroke-width="1" />
<text x="55.60" y="481.64" font-size="6.3" text-anchor="end">0.00</text>
<line x1="59.40" y1="498.50" x2="62.00" y2="498.50" stroke="#1a1a1a" stroke-width="1" />
<text x="55.60" y="500.84" font-size="6.3" text-anchor="end">−0.25</text>
<line x1="62.00" y1="479.50" x2="160.00" y2="479.50" stroke="#222" stroke-width="1" stroke-dasharray="1.9 1.6"/>
<text transform="translate(32.10,462.70) rotate(-90)" x="0" y="2.95" font-size="8.3" text-anchor="middle" textLength="70.00" lengthAdjust="spacingAndGlyphs">Standardized expression</text>
<line x1="73.50" y1="505.80" x2="73.50" y2="508.30" stroke="#1a1a1a" stroke-width="1" />
<text x="73.10" y="516.94" font-size="6.6" text-anchor="middle" font-style="italic">eIF4A1</text>
<line x1="97.50" y1="505.80" x2="97.50" y2="508.30" stroke="#1a1a1a" stroke-width="1" />
<text x="97.70" y="516.94" font-size="6.6" text-anchor="middle" font-style="italic">eIF4E2</text>
<line x1="122.50" y1="505.80" x2="122.50" y2="508.30" stroke="#1a1a1a" stroke-width="1" />
<text x="122.80" y="516.94" font-size="6.6" text-anchor="middle" font-style="italic">eIF4G1</text>
<line x1="148.50" y1="505.80" x2="148.50" y2="508.30" stroke="#1a1a1a" stroke-width="1" />
<text x="148.00" y="516.94" font-size="6.6" text-anchor="middle" font-style="italic">eIF4G2</text>
<line x1="69.50" y1="472.70" x2="69.50" y2="503.50" stroke="#3b6285" stroke-width="1.4" />
<line x1="76.50" y1="441.20" x2="76.50" y2="479.30" stroke="#b3304d" stroke-width="1.4" />
<circle cx="69.20" cy="488.40" r="2.8" fill="#1e4b74" stroke="#0e2438" stroke-width="0.8"/>
<circle cx="76.90" cy="460.40" r="2.8" fill="#bb1e3f" stroke="#4a0a18" stroke-width="0.8"/>
<path d="M69.50,437.80V435.50H76.90V437.80" stroke="#333" stroke-width="0.8" fill="none" stroke-linejoin="miter"/>
<text x="73.20" y="436.64" font-size="6.6" text-anchor="middle" fill="#222">*</text>
<line x1="94.50" y1="475.00" x2="94.50" y2="502.70" stroke="#3b6285" stroke-width="1.4" />
<line x1="101.50" y1="434.20" x2="101.50" y2="485.50" stroke="#b3304d" stroke-width="1.4" />
<circle cx="94.20" cy="488.40" r="2.8" fill="#1e4b74" stroke="#0e2438" stroke-width="0.8"/>
<circle cx="101.50" cy="459.60" r="2.8" fill="#bb1e3f" stroke="#4a0a18" stroke-width="0.8"/>
<path d="M94.30,431.90V429.60H101.50V431.90" stroke="#333" stroke-width="0.8" fill="none" stroke-linejoin="miter"/>
<text x="97.90" y="430.74" font-size="6.6" text-anchor="middle" fill="#222">*</text>
<line x1="119.50" y1="474.20" x2="119.50" y2="503.00" stroke="#3b6285" stroke-width="1.4" />
<line x1="126.50" y1="435.80" x2="126.50" y2="482.70" stroke="#b3304d" stroke-width="1.4" />
<circle cx="119.20" cy="488.50" r="2.8" fill="#1e4b74" stroke="#0e2438" stroke-width="0.8"/>
<circle cx="126.60" cy="459.30" r="2.8" fill="#bb1e3f" stroke="#4a0a18" stroke-width="0.8"/>
<path d="M119.20,431.90V429.60H126.60V431.90" stroke="#333" stroke-width="0.8" fill="none" stroke-linejoin="miter"/>
<text x="122.90" y="430.74" font-size="6.6" text-anchor="middle" fill="#222">*</text>
<line x1="144.50" y1="473.50" x2="144.50" y2="503.00" stroke="#3b6285" stroke-width="1.4" />
<line x1="151.50" y1="437.30" x2="151.50" y2="482.70" stroke="#b3304d" stroke-width="1.4" />
<circle cx="144.20" cy="488.50" r="2.8" fill="#1e4b74" stroke="#0e2438" stroke-width="0.8"/>
<circle cx="151.50" cy="460.40" r="2.8" fill="#bb1e3f" stroke="#4a0a18" stroke-width="0.8"/>
<path d="M144.60,433.90V431.60H151.50V433.90" stroke="#333" stroke-width="0.8" fill="none" stroke-linejoin="miter"/>
<text x="148.05" y="432.74" font-size="6.6" text-anchor="middle" fill="#222">*</text>
<circle cx="165.90" cy="422.70" r="2.9" fill="#bb1e3f" stroke="#4a0a18" stroke-width="0.8"/>
<text x="171.90" y="424.83" font-size="6.0">Binet</text>
<text x="171.90" y="433.53" font-size="6.0">B+C</text>
<text x="171.90" y="442.33" font-size="6.0">(n = 45)</text>
<circle cx="165.90" cy="453.00" r="2.9" fill="#1e4b74" stroke="#0e2438" stroke-width="0.8"/>
<text x="171.90" y="455.13" font-size="6.0">Binet A</text>
<text x="171.90" y="462.43" font-size="6.0">(n = 99)</text>
<line x1="241.50" y1="418.40" x2="241.50" y2="506.00" stroke="#1a1a1a" stroke-width="1.1" />
<line x1="241.10" y1="505.50" x2="339.60" y2="505.50" stroke="#1a1a1a" stroke-width="1.1" />
<line x1="239.00" y1="421.50" x2="241.60" y2="421.50" stroke="#1a1a1a" stroke-width="1" />
<text x="235.40" y="424.14" font-size="6.3" text-anchor="end">0.75</text>
<line x1="239.00" y1="438.50" x2="241.60" y2="438.50" stroke="#1a1a1a" stroke-width="1" />
<text x="235.40" y="440.54" font-size="6.3" text-anchor="end">0.50</text>
<line x1="239.00" y1="454.50" x2="241.60" y2="454.50" stroke="#1a1a1a" stroke-width="1" />
<text x="235.40" y="456.64" font-size="6.3" text-anchor="end">0.25</text>
<line x1="239.00" y1="470.50" x2="241.60" y2="470.50" stroke="#1a1a1a" stroke-width="1" />
<text x="235.40" y="472.64" font-size="6.3" text-anchor="end">0.00</text>
<line x1="239.00" y1="486.50" x2="241.60" y2="486.50" stroke="#1a1a1a" stroke-width="1" />
<text x="235.40" y="488.74" font-size="6.3" text-anchor="end">−0.25</text>
<line x1="239.00" y1="502.50" x2="241.60" y2="502.50" stroke="#1a1a1a" stroke-width="1" />
<text x="235.40" y="504.94" font-size="6.3" text-anchor="end">−0.50</text>
<line x1="241.60" y1="470.50" x2="340.40" y2="470.50" stroke="#222" stroke-width="1" stroke-dasharray="1.9 1.6"/>
<text transform="translate(211.90,462.70) rotate(-90)" x="0" y="2.95" font-size="8.3" text-anchor="middle" textLength="70.00" lengthAdjust="spacingAndGlyphs">Standardized expression</text>
<line x1="252.50" y1="505.50" x2="252.50" y2="508.00" stroke="#1a1a1a" stroke-width="1" />
<text x="252.70" y="516.94" font-size="6.6" text-anchor="middle" font-style="italic">eIF4E1</text>
<line x1="277.50" y1="505.50" x2="277.50" y2="508.00" stroke="#1a1a1a" stroke-width="1" />
<text x="277.30" y="516.94" font-size="6.6" text-anchor="middle" font-style="italic">eIF4E2</text>
<line x1="302.50" y1="505.50" x2="302.50" y2="508.00" stroke="#1a1a1a" stroke-width="1" />
<text x="302.20" y="516.94" font-size="6.6" text-anchor="middle" font-style="italic">eIF4G1</text>
<line x1="327.50" y1="505.50" x2="327.50" y2="508.00" stroke="#1a1a1a" stroke-width="1" />
<text x="327.30" y="516.94" font-size="6.6" text-anchor="middle" font-style="italic">PHB2</text>
<line x1="248.50" y1="470.40" x2="248.50" y2="495.00" stroke="#3b6285" stroke-width="1.4" />
<line x1="256.50" y1="431.90" x2="256.50" y2="477.30" stroke="#b3304d" stroke-width="1.4" />
<circle cx="248.80" cy="482.40" r="2.8" fill="#1e4b74" stroke="#0e2438" stroke-width="0.8"/>
<circle cx="256.50" cy="454.70" r="2.8" fill="#bb1e3f" stroke="#4a0a18" stroke-width="0.8"/>
<path d="M249.20,428.80V426.50H256.50V428.80" stroke="#333" stroke-width="0.8" fill="none" stroke-linejoin="miter"/>
<text x="252.85" y="427.64" font-size="6.6" text-anchor="middle" fill="#222">*</text>
<line x1="273.50" y1="468.10" x2="273.50" y2="495.30" stroke="#3b6285" stroke-width="1.4" />
<line x1="281.50" y1="435.00" x2="281.50" y2="476.50" stroke="#b3304d" stroke-width="1.4" />
<circle cx="273.80" cy="481.60" r="2.8" fill="#1e4b74" stroke="#0e2438" stroke-width="0.8"/>
<circle cx="281.20" cy="455.80" r="2.8" fill="#bb1e3f" stroke="#4a0a18" stroke-width="0.8"/>
<path d="M273.90,431.90V429.60H281.20V431.90" stroke="#333" stroke-width="0.8" fill="none" stroke-linejoin="miter"/>
<text x="277.55" y="430.74" font-size="6.6" text-anchor="middle" fill="#222">*</text>
<line x1="298.50" y1="468.10" x2="298.50" y2="498.80" stroke="#3b6285" stroke-width="1.4" />
<line x1="306.50" y1="435.00" x2="306.50" y2="471.20" stroke="#b3304d" stroke-width="1.4" />
<circle cx="298.80" cy="483.00" r="2.8" fill="#1e4b74" stroke="#0e2438" stroke-width="0.8"/>
<circle cx="306.10" cy="453.80" r="2.8" fill="#bb1e3f" stroke="#4a0a18" stroke-width="0.8"/>
<path d="M299.20,430.80V428.50H306.20V430.80" stroke="#333" stroke-width="0.8" fill="none" stroke-linejoin="miter"/>
<text x="302.70" y="429.64" font-size="6.6" text-anchor="middle" fill="#222">*</text>
<line x1="323.50" y1="467.30" x2="323.50" y2="498.80" stroke="#3b6285" stroke-width="1.4" />
<line x1="331.50" y1="437.30" x2="331.50" y2="470.40" stroke="#b3304d" stroke-width="1.4" />
<circle cx="323.50" cy="483.00" r="2.8" fill="#1e4b74" stroke="#0e2438" stroke-width="0.8"/>
<circle cx="331.20" cy="453.80" r="2.8" fill="#bb1e3f" stroke="#4a0a18" stroke-width="0.8"/>
<path d="M324.20,432.70V430.40H331.20V432.70" stroke="#333" stroke-width="0.8" fill="none" stroke-linejoin="miter"/>
<text x="327.70" y="431.54" font-size="6.6" text-anchor="middle" fill="#222">*</text>
<circle cx="345.20" cy="422.50" r="2.9" fill="#bb1e3f" stroke="#4a0a18" stroke-width="0.8"/>
<text x="351.50" y="424.63" font-size="6.0">CytoG</text>
<text x="351.50" y="432.13" font-size="6.0">unfav.</text>
<text x="351.50" y="440.83" font-size="6.0">(n = 48)</text>
<circle cx="345.20" cy="453.10" r="2.9" fill="#1e4b74" stroke="#0e2438" stroke-width="0.8"/>
<text x="351.50" y="455.23" font-size="6.0">CytoG fav.</text>
<text x="351.50" y="462.43" font-size="6.0">(n = 66)</text>
<line x1="428.50" y1="418.40" x2="428.50" y2="506.30" stroke="#1a1a1a" stroke-width="1.1" />
<line x1="428.30" y1="505.50" x2="481.00" y2="505.50" stroke="#1a1a1a" stroke-width="1.1" />
<line x1="426.20" y1="421.50" x2="428.80" y2="421.50" stroke="#1a1a1a" stroke-width="1" />
<text x="422.50" y="424.14" font-size="6.3" text-anchor="end">0.75</text>
<line x1="426.20" y1="438.50" x2="428.80" y2="438.50" stroke="#1a1a1a" stroke-width="1" />
<text x="422.50" y="440.54" font-size="6.3" text-anchor="end">0.50</text>
<line x1="426.20" y1="454.50" x2="428.80" y2="454.50" stroke="#1a1a1a" stroke-width="1" />
<text x="422.50" y="456.74" font-size="6.3" text-anchor="end">0.25</text>
<line x1="426.20" y1="470.50" x2="428.80" y2="470.50" stroke="#1a1a1a" stroke-width="1" />
<text x="422.50" y="472.64" font-size="6.3" text-anchor="end">0.00</text>
<line x1="426.20" y1="486.50" x2="428.80" y2="486.50" stroke="#1a1a1a" stroke-width="1" />
<text x="422.50" y="488.74" font-size="6.3" text-anchor="end">−0.25</text>
<line x1="426.20" y1="502.50" x2="428.80" y2="502.50" stroke="#1a1a1a" stroke-width="1" />
<text x="422.50" y="504.94" font-size="6.3" text-anchor="end">−0.50</text>
<line x1="428.80" y1="470.50" x2="481.20" y2="470.50" stroke="#222" stroke-width="1" stroke-dasharray="1.9 1.6"/>
<text transform="translate(398.90,462.50) rotate(-90)" x="0" y="2.95" font-size="8.3" text-anchor="middle" textLength="70.00" lengthAdjust="spacingAndGlyphs">Standardized expression</text>
<line x1="440.50" y1="505.80" x2="440.50" y2="508.30" stroke="#1a1a1a" stroke-width="1" />
<text x="440.80" y="516.94" font-size="6.6" text-anchor="middle" font-style="italic">eIF4E2</text>
<line x1="467.50" y1="505.80" x2="467.50" y2="508.30" stroke="#1a1a1a" stroke-width="1" />
<text x="467.70" y="516.94" font-size="6.6" text-anchor="middle" font-style="italic">PHB2</text>
<line x1="436.50" y1="468.80" x2="436.50" y2="494.20" stroke="#3b6285" stroke-width="1.4" />
<line x1="444.50" y1="440.40" x2="444.50" y2="475.00" stroke="#b3304d" stroke-width="1.4" />
<circle cx="436.90" cy="481.50" r="2.8" fill="#1e4b74" stroke="#0e2438" stroke-width="0.8"/>
<circle cx="444.60" cy="458.10" r="2.8" fill="#bb1e3f" stroke="#4a0a18" stroke-width="0.8"/>
<path d="M437.70,435.50V433.20H444.60V435.50" stroke="#333" stroke-width="0.8" fill="none" stroke-linejoin="miter"/>
<text x="441.15" y="434.34" font-size="6.6" text-anchor="middle" fill="#222">*</text>
<line x1="463.50" y1="468.00" x2="463.50" y2="495.00" stroke="#3b6285" stroke-width="1.4" />
<line x1="471.50" y1="441.90" x2="471.50" y2="472.70" stroke="#b3304d" stroke-width="1.4" />
<circle cx="463.80" cy="481.50" r="2.8" fill="#1e4b74" stroke="#0e2438" stroke-width="0.8"/>
<circle cx="471.80" cy="457.30" r="2.8" fill="#bb1e3f" stroke="#4a0a18" stroke-width="0.8"/>
<path d="M464.60,436.50V434.20H471.80V436.50" stroke="#333" stroke-width="0.8" fill="none" stroke-linejoin="miter"/>
<text x="468.20" y="435.34" font-size="6.6" text-anchor="middle" fill="#222">*</text>
<circle cx="486.20" cy="425.50" r="2.9" fill="#bb1e3f" stroke="#4a0a18" stroke-width="0.8"/>
<text x="493.10" y="427.63" font-size="6.0">CD38<tspan font-size="3.8" dy="-2.2">+</tspan></text>
<text x="493.10" y="434.53" font-size="6.0">(n = 65)</text>
<circle cx="486.20" cy="441.90" r="2.9" fill="#1e4b74" stroke="#0e2438" stroke-width="0.8"/>
<text x="493.10" y="444.03" font-size="6.0">CD38<tspan font-size="3.8" dy="-2.2">−</tspan></text>
<text x="493.10" y="450.63" font-size="6.0">(n = 79)</text>
<text x="7.20" y="545.44" font-size="12" font-weight="bold" fill="#000">H</text>
<text class="t" x="97.70" y="544.40" font-size="8" textLength="28.80" lengthAdjust="spacingAndGlyphs" fill="#2a2a2a">IGHV<tspan font-size="5.2" dy="1.8">UM</tspan></text>
<line x1="97.70" y1="547.50" x2="126.50" y2="547.50" stroke="#333" stroke-width="0.7" />
<line x1="61.50" y1="550.60" x2="61.50" y2="636.30" stroke="#1a1a1a" stroke-width="1.1" />
<line x1="61.40" y1="635.50" x2="161.50" y2="635.50" stroke="#1a1a1a" stroke-width="1.1" />
<line x1="59.30" y1="553.50" x2="61.90" y2="553.50" stroke="#1a1a1a" stroke-width="1" />
<text x="56.00" y="555.54" font-size="6.3" text-anchor="end">100</text>
<line x1="59.30" y1="573.50" x2="61.90" y2="573.50" stroke="#1a1a1a" stroke-width="1" />
<text x="56.00" y="576.16" font-size="6.3" text-anchor="end">75</text>
<line x1="59.30" y1="594.50" x2="61.90" y2="594.50" stroke="#1a1a1a" stroke-width="1" />
<text x="56.00" y="596.79" font-size="6.3" text-anchor="end">50</text>
<line x1="59.30" y1="615.50" x2="61.90" y2="615.50" stroke="#1a1a1a" stroke-width="1" />
<text x="56.00" y="617.41" font-size="6.3" text-anchor="end">25</text>
<line x1="59.30" y1="635.50" x2="61.90" y2="635.50" stroke="#1a1a1a" stroke-width="1" />
<text x="56.00" y="638.04" font-size="6.3" text-anchor="end">0</text>
<line x1="61.50" y1="635.80" x2="61.50" y2="638.30" stroke="#1a1a1a" stroke-width="1" />
<text x="61.90" y="647.64" font-size="6.3" text-anchor="middle">0</text>
<line x1="86.50" y1="635.80" x2="86.50" y2="638.30" stroke="#1a1a1a" stroke-width="1" />
<text x="86.15" y="647.64" font-size="6.3" text-anchor="middle">100</text>
<line x1="110.50" y1="635.80" x2="110.50" y2="638.30" stroke="#1a1a1a" stroke-width="1" />
<text x="110.40" y="647.64" font-size="6.3" text-anchor="middle">200</text>
<line x1="134.50" y1="635.80" x2="134.50" y2="638.30" stroke="#1a1a1a" stroke-width="1" />
<text x="134.65" y="647.64" font-size="6.3" text-anchor="middle">300</text>
<line x1="158.50" y1="635.80" x2="158.50" y2="638.30" stroke="#1a1a1a" stroke-width="1" />
<text x="158.90" y="647.64" font-size="6.3" text-anchor="middle">400</text>
<text transform="translate(37.50,592.65) rotate(-90)" x="0" y="2.95" font-size="8.3" text-anchor="middle" textLength="54.50" lengthAdjust="spacingAndGlyphs">Overall survival (%)</text>
<text x="112.20" y="659.45" font-size="8.3" text-anchor="middle" textLength="40.70" lengthAdjust="spacingAndGlyphs">Time (months)</text>
<line x1="61.90" y1="594.50" x2="160.00" y2="594.50" stroke="#222" stroke-width="1" stroke-dasharray="1.9 1.6"/>
<path d="M61.50,553.50H71.50V556.50H77.50V560.50H79.50V564.50H80.50V567.50H81.50V570.50H83.50V571.50H84.50V574.50H85.50V575.50H86.50V579.50H120.50V608.50H158.50V635.50" stroke="#2c5678" stroke-width="1.2" fill="none" stroke-linejoin="miter"/>
<path d="M61.50,553.50H64.50V555.50H67.50V558.50H68.50V561.50H70.50V564.50H73.50V566.50H74.50V569.50H76.50V573.50H76.50V580.50H81.50V584.50H82.50V588.50H86.50V594.50H87.50V597.50H88.50V604.50H104.50V612.50H137.50V635.50" stroke="#a8223f" stroke-width="1.2" fill="none" stroke-linejoin="miter"/>
<line x1="108.70" y1="559.50" x2="117.70" y2="559.50" stroke="#a8223f" stroke-width="1.3" />
<text x="120.80" y="561.93" font-size="6.0" textLength="57.00" lengthAdjust="spacingAndGlyphs"><tspan font-style="italic">eIF4E2</tspan> high (106 mo)</text>
<line x1="108.70" y1="569.50" x2="117.70" y2="569.50" stroke="#2c5678" stroke-width="1.3" />
<text x="120.80" y="571.93" font-size="6.0" textLength="55.20" lengthAdjust="spacingAndGlyphs"><tspan font-style="italic">eIF4E2</tspan> low (242 mo)</text>
<text x="64.70" y="630.67" font-size="6.4"><tspan font-style="italic">P</tspan> = .0297</text>
<text class="t" x="264.10" y="544.70" font-size="8" textLength="16.30" lengthAdjust="spacingAndGlyphs" fill="#2a2a2a">LPL<tspan font-size="5" dy="-2.6">+</tspan></text>
<line x1="264.10" y1="546.50" x2="280.40" y2="546.50" stroke="#333" stroke-width="0.7" />
<line x1="222.50" y1="550.60" x2="222.50" y2="635.90" stroke="#1a1a1a" stroke-width="1.1" />
<line x1="221.80" y1="635.50" x2="321.50" y2="635.50" stroke="#1a1a1a" stroke-width="1.1" />
<line x1="219.70" y1="553.50" x2="222.30" y2="553.50" stroke="#1a1a1a" stroke-width="1" />
<text x="216.90" y="555.54" font-size="6.3" text-anchor="end">100</text>
<line x1="219.70" y1="573.50" x2="222.30" y2="573.50" stroke="#1a1a1a" stroke-width="1" />
<text x="216.90" y="576.06" font-size="6.3" text-anchor="end">75</text>
<line x1="219.70" y1="594.50" x2="222.30" y2="594.50" stroke="#1a1a1a" stroke-width="1" />
<text x="216.90" y="596.59" font-size="6.3" text-anchor="end">50</text>
<line x1="219.70" y1="614.50" x2="222.30" y2="614.50" stroke="#1a1a1a" stroke-width="1" />
<text x="216.90" y="617.11" font-size="6.3" text-anchor="end">25</text>
<line x1="219.70" y1="635.50" x2="222.30" y2="635.50" stroke="#1a1a1a" stroke-width="1" />
<text x="216.90" y="637.64" font-size="6.3" text-anchor="end">0</text>
<line x1="222.50" y1="635.40" x2="222.50" y2="637.90" stroke="#1a1a1a" stroke-width="1" />
<text x="222.40" y="647.54" font-size="6.3" text-anchor="middle">0</text>
<line x1="246.50" y1="635.40" x2="246.50" y2="637.90" stroke="#1a1a1a" stroke-width="1" />
<text x="246.60" y="647.54" font-size="6.3" text-anchor="middle">100</text>
<line x1="270.50" y1="635.40" x2="270.50" y2="637.90" stroke="#1a1a1a" stroke-width="1" />
<text x="270.80" y="647.54" font-size="6.3" text-anchor="middle">200</text>
<line x1="295.50" y1="635.40" x2="295.50" y2="637.90" stroke="#1a1a1a" stroke-width="1" />
<text x="295.00" y="647.54" font-size="6.3" text-anchor="middle">300</text>
<line x1="319.50" y1="635.40" x2="319.50" y2="637.90" stroke="#1a1a1a" stroke-width="1" />
<text x="319.20" y="647.54" font-size="6.3" text-anchor="middle">400</text>
<text transform="translate(197.80,592.45) rotate(-90)" x="0" y="2.95" font-size="8.3" text-anchor="middle" textLength="54.50" lengthAdjust="spacingAndGlyphs">Overall survival (%)</text>
<text x="272.30" y="659.15" font-size="8.3" text-anchor="middle" textLength="40.70" lengthAdjust="spacingAndGlyphs">Time (months)</text>
<line x1="222.30" y1="594.50" x2="318.50" y2="594.50" stroke="#222" stroke-width="1" stroke-dasharray="1.9 1.6"/>
<path d="M222.50,553.50H231.50V556.50H237.50V558.50H239.50V562.50H241.50V564.50H242.50V566.50H244.50V568.50H245.50V572.50H258.50V578.50H270.50V588.50H318.50V635.50" stroke="#2c5678" stroke-width="1.2" fill="none" stroke-linejoin="miter"/>
<path d="M222.50,553.50H225.50V554.50H228.50V556.50H230.50V557.50H231.50V559.50H232.50V562.50H234.50V565.50H235.50V569.50H235.50V572.50H236.50V575.50H237.50V579.50H242.50V583.50H243.50V586.50H245.50V587.50H246.50V589.50H247.50V590.50H248.50V594.50H253.50V601.50H264.50V610.50H306.50V610.50" stroke="#a8223f" stroke-width="1.2" fill="none" stroke-linejoin="miter"/>
<line x1="269.00" y1="559.50" x2="277.70" y2="559.50" stroke="#a8223f" stroke-width="1.3" />
<text x="281.20" y="561.83" font-size="6.0" textLength="56.90" lengthAdjust="spacingAndGlyphs"><tspan font-style="italic">eIF4E2</tspan> high (109 mo)</text>
<line x1="269.00" y1="569.50" x2="277.70" y2="569.50" stroke="#2c5678" stroke-width="1.3" />
<text x="281.20" y="571.33" font-size="6.0" textLength="55.50" lengthAdjust="spacingAndGlyphs"><tspan font-style="italic">eIF4E2</tspan> low (396 mo)</text>
<text x="225.70" y="630.77" font-size="6.4"><tspan font-style="italic">P</tspan> = .0253</text>
<text x="351.00" y="546.94" font-size="12" font-weight="bold" fill="#000">I</text>
<text class="t" x="417.70" y="544.70" font-size="8" textLength="27.40" lengthAdjust="spacingAndGlyphs" fill="#2a2a2a">Binet A</text>
<line x1="417.70" y1="546.50" x2="445.10" y2="546.50" stroke="#333" stroke-width="0.7" />
<line x1="382.50" y1="550.60" x2="382.50" y2="635.90" stroke="#1a1a1a" stroke-width="1.1" />
<line x1="382.10" y1="635.50" x2="481.00" y2="635.50" stroke="#1a1a1a" stroke-width="1.1" />
<line x1="380.00" y1="553.50" x2="382.60" y2="553.50" stroke="#1a1a1a" stroke-width="1" />
<text x="376.40" y="555.54" font-size="6.3" text-anchor="end">100</text>
<line x1="380.00" y1="573.50" x2="382.60" y2="573.50" stroke="#1a1a1a" stroke-width="1" />
<text x="376.40" y="576.06" font-size="6.3" text-anchor="end">75</text>
<line x1="380.00" y1="594.50" x2="382.60" y2="594.50" stroke="#1a1a1a" stroke-width="1" />
<text x="376.40" y="596.59" font-size="6.3" text-anchor="end">50</text>
<line x1="380.00" y1="614.50" x2="382.60" y2="614.50" stroke="#1a1a1a" stroke-width="1" />
<text x="376.40" y="617.11" font-size="6.3" text-anchor="end">25</text>
<line x1="380.00" y1="635.50" x2="382.60" y2="635.50" stroke="#1a1a1a" stroke-width="1" />
<text x="376.40" y="637.64" font-size="6.3" text-anchor="end">0</text>
<line x1="382.50" y1="635.40" x2="382.50" y2="637.90" stroke="#1a1a1a" stroke-width="1" />
<text x="382.60" y="647.54" font-size="6.3" text-anchor="middle">0</text>
<line x1="400.50" y1="635.40" x2="400.50" y2="637.90" stroke="#1a1a1a" stroke-width="1" />
<text x="400.55" y="647.54" font-size="6.3" text-anchor="middle">50</text>
<line x1="418.50" y1="635.40" x2="418.50" y2="637.90" stroke="#1a1a1a" stroke-width="1" />
<text x="418.50" y="647.54" font-size="6.3" text-anchor="middle">100</text>
<line x1="436.50" y1="635.40" x2="436.50" y2="637.90" stroke="#1a1a1a" stroke-width="1" />
<text x="436.45" y="647.54" font-size="6.3" text-anchor="middle">150</text>
<line x1="454.50" y1="635.40" x2="454.50" y2="637.90" stroke="#1a1a1a" stroke-width="1" />
<text x="454.40" y="647.54" font-size="6.3" text-anchor="middle">200</text>
<line x1="472.50" y1="635.40" x2="472.50" y2="637.90" stroke="#1a1a1a" stroke-width="1" />
<text x="472.35" y="647.54" font-size="6.3" text-anchor="middle">250</text>
<text transform="translate(357.80,592.45) rotate(-90)" x="0" y="2.95" font-size="8.3" text-anchor="middle" textLength="75.40" lengthAdjust="spacingAndGlyphs">Treatment-free survival (%)</text>
<text x="431.70" y="658.85" font-size="8.3" text-anchor="middle" textLength="40.70" lengthAdjust="spacingAndGlyphs">Time (months)</text>
<line x1="382.60" y1="594.50" x2="479.70" y2="594.50" stroke="#222" stroke-width="1" stroke-dasharray="1.9 1.6"/>
<path d="M382.50,554.50H384.50V555.50H386.50V556.50H389.50V558.50H390.50V560.50H392.50V562.50H394.50V564.50H395.50V565.50H396.50V567.50H397.50V568.50H403.50V572.50H404.50V574.50H409.50V577.50H410.50V579.50H414.50V583.50H426.50V588.50H429.50V594.50H434.50V600.50H478.50V600.50" stroke="#2c5678" stroke-width="1.2" fill="none" stroke-linejoin="miter"/>
<path d="M382.50,554.50H383.50V556.50H385.50V558.50H386.50V560.50H387.50V562.50H389.50V563.50H391.50V565.50H393.50V567.50H395.50V567.50H396.50V569.50H398.50V571.50H399.50V572.50H399.50V575.50H401.50V578.50H402.50V580.50H404.50V581.50H405.50V587.50H406.50V591.50H408.50V592.50H409.50V594.50H410.50V597.50H412.50V601.50H412.50V604.50H413.50V608.50H416.50V609.50H418.50V613.50H438.50V628.50H466.50V635.50" stroke="#a8223f" stroke-width="1.2" fill="none" stroke-linejoin="miter"/>
<line x1="429.00" y1="559.50" x2="438.20" y2="559.50" stroke="#a8223f" stroke-width="1.3" />
<text x="442.20" y="561.93" font-size="6.0" textLength="53.10" lengthAdjust="spacingAndGlyphs"><tspan font-style="italic">eIF4E2</tspan> high (73 mo)</text>
<line x1="429.00" y1="569.50" x2="438.20" y2="569.50" stroke="#2c5678" stroke-width="1.3" />
<text x="442.20" y="571.63" font-size="6.0" textLength="53.60" lengthAdjust="spacingAndGlyphs"><tspan font-style="italic">eIF4E2</tspan> low (144 mo)</text>
<text x="386.00" y="631.27" font-size="6.4"><tspan font-style="italic">P</tspan> = .0084</text>
</svg>
</body></html>
